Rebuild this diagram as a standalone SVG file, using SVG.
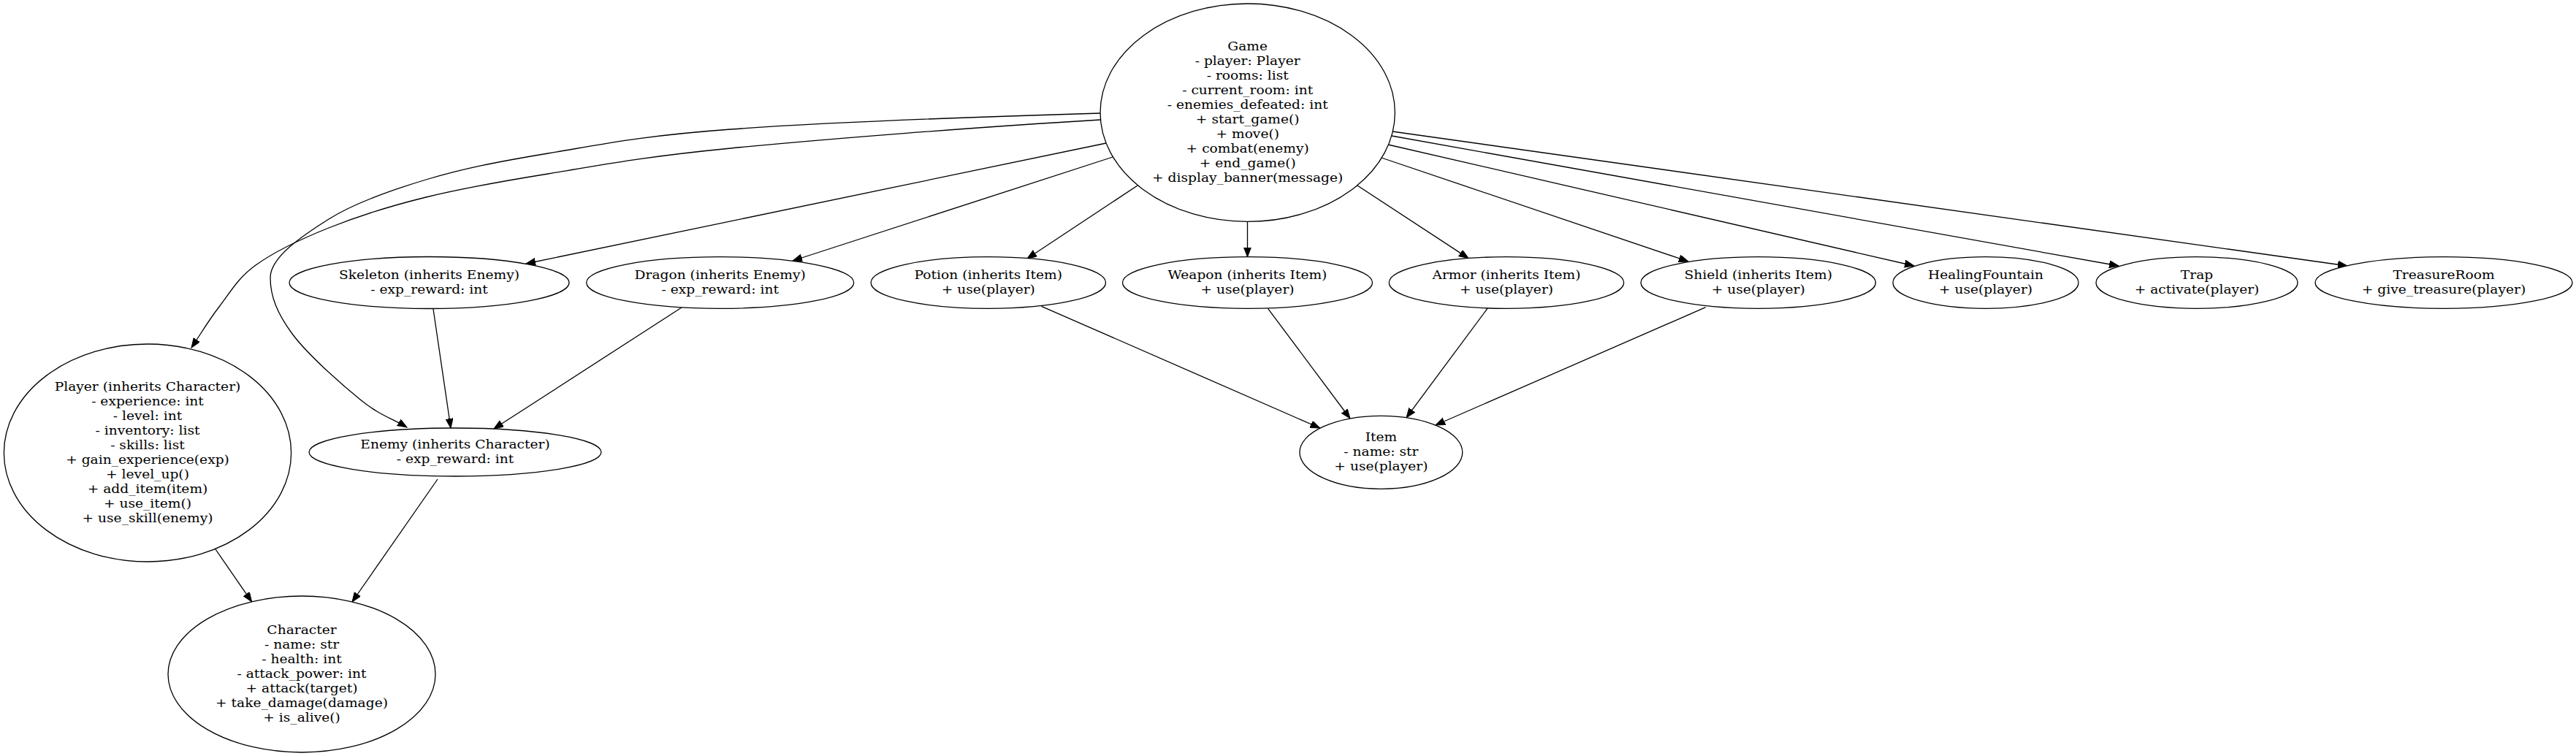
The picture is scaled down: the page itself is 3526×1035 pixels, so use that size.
<svg xmlns="http://www.w3.org/2000/svg" width="3526" height="1035" viewBox="0 0 3526 1035">
<style>
.n ellipse{fill:#fff;stroke:#000;stroke-width:1.3}
.n text{font-family:"DejaVu Serif","Liberation Serif",serif;font-size:16.8px;text-anchor:middle;fill:#000}
.e path{fill:none;stroke:#000;stroke-width:1.3;marker-end:url(#ah)}
</style>
<defs>
<marker id="ah" markerUnits="userSpaceOnUse" markerWidth="14" markerHeight="11" refX="13" refY="5" orient="auto">
<path d="M0,0 L13,5 L0,10 z" fill="#000" stroke="#000" stroke-width="1"/>
</marker>
</defs>
<rect width="3526" height="1035" fill="#fff"/>
<g id="edges" class="e">
<path d="M1506,164 C1337,174 1126,190.7 1000,203 C874,215.3 819.5,226.8 750,238 C680.5,249.2 633,257.7 583,270 C533,282.3 488.8,296.5 450,312 C411.2,327.5 375,345 350,363 C325,381 314.7,401.2 300,420 C285.3,438.8 274.7,457.3 262,476"/>
<path d="M1506,155 C1337,160 1126,167.8 1000,177 C874,186.2 819.5,198.5 750,210 C680.5,221.5 633,231 583,246 C533,261 485.5,277.7 450,300 C414.5,322.3 370,352 370,380 C370,406 379.5,429.2 400,457 C420.5,484.8 466.8,525.7 493,547 C519.2,568.3 535.7,572.3 557,585"/>
<path d="M1514,196 L720,361"/>
<path d="M1523,215 L1085,357"/>
<path d="M1557,254 L1406,354"/>
<path d="M1707.5,303 L1707.5,351.7"/>
<path d="M1858,254 L2010,353.6"/>
<path d="M1891,216 L2311,358"/>
<path d="M1900,198 L2620,364"/>
<path d="M1905,186 L2900,364"/>
<path d="M1906,180 L3213,364"/>
<path d="M593,423 L617,586"/>
<path d="M933,421 L676,587"/>
<path d="M295,752 L344.6,823.8"/>
<path d="M599,656 L482,824"/>
<path d="M1425.5,419.3 L1806.6,586"/>
<path d="M1735.5,422.3 L1848,573"/>
<path d="M2036,422.3 L1925,571.8"/>
<path d="M2334.7,420.7 L1965,582"/>
</g>
<g id="Game" class="n">
<ellipse cx="1707.7" cy="154.2" rx="201.7" ry="149.2"/>
<g transform="translate(1707.7,0) scale(1.11,1)">
<text x="0" y="69">Game</text>
<text x="0" y="89">- player: Player</text>
<text x="0" y="109">- rooms: list</text>
<text x="0" y="129">- current_room: int</text>
<text x="0" y="149">- enemies_defeated: int</text>
<text x="0" y="169">+ start_game()</text>
<text x="0" y="189">+ move()</text>
<text x="0" y="209">+ combat(enemy)</text>
<text x="0" y="229">+ end_game()</text>
<text x="0" y="249">+ display_banner(message)</text>
</g>
</g>
<g id="Skeleton" class="n">
<ellipse cx="587.5" cy="387" rx="191.5" ry="35.5"/>
<g transform="translate(587.5,0) scale(1.11,1)">
<text x="0" y="382">Skeleton (inherits Enemy)</text>
<text x="0" y="402">- exp_reward: int</text>
</g>
</g>
<g id="Dragon" class="n">
<ellipse cx="985.7" cy="387" rx="183" ry="35.3"/>
<g transform="translate(985.7,0) scale(1.11,1)">
<text x="0" y="382">Dragon (inherits Enemy)</text>
<text x="0" y="402">- exp_reward: int</text>
</g>
</g>
<g id="Potion" class="n">
<ellipse cx="1352.8" cy="387" rx="160.7" ry="35.3"/>
<g transform="translate(1352.8,0) scale(1.11,1)">
<text x="0" y="382">Potion (inherits Item)</text>
<text x="0" y="402">+ use(player)</text>
</g>
</g>
<g id="Weapon" class="n">
<ellipse cx="1707.5" cy="387" rx="171" ry="35.3"/>
<g transform="translate(1707.5,0) scale(1.11,1)">
<text x="0" y="382">Weapon (inherits Item)</text>
<text x="0" y="402">+ use(player)</text>
</g>
</g>
<g id="Armor" class="n">
<ellipse cx="2062" cy="387" rx="160.7" ry="35.3"/>
<g transform="translate(2062,0) scale(1.11,1)">
<text x="0" y="382">Armor (inherits Item)</text>
<text x="0" y="402">+ use(player)</text>
</g>
</g>
<g id="Shield" class="n">
<ellipse cx="2406.7" cy="387" rx="160.7" ry="35.3"/>
<g transform="translate(2406.7,0) scale(1.11,1)">
<text x="0" y="382">Shield (inherits Item)</text>
<text x="0" y="402">+ use(player)</text>
</g>
</g>
<g id="HealingFountain" class="n">
<ellipse cx="2718" cy="387" rx="127" ry="35.3"/>
<g transform="translate(2718,0) scale(1.11,1)">
<text x="0" y="382">HealingFountain</text>
<text x="0" y="402">+ use(player)</text>
</g>
</g>
<g id="Trap" class="n">
<ellipse cx="3007" cy="387" rx="138" ry="35.3"/>
<g transform="translate(3007,0) scale(1.11,1)">
<text x="0" y="382">Trap</text>
<text x="0" y="402">+ activate(player)</text>
</g>
</g>
<g id="TreasureRoom" class="n">
<ellipse cx="3345" cy="387" rx="176" ry="35.3"/>
<g transform="translate(3345,0) scale(1.11,1)">
<text x="0" y="382">TreasureRoom</text>
<text x="0" y="402">+ give_treasure(player)</text>
</g>
</g>
<g id="Player" class="n">
<ellipse cx="202" cy="620" rx="196.6" ry="149"/>
<g transform="translate(202,0) scale(1.11,1)">
<text x="0" y="535">Player (inherits Character)</text>
<text x="0" y="555">- experience: int</text>
<text x="0" y="575">- level: int</text>
<text x="0" y="595">- inventory: list</text>
<text x="0" y="615">- skills: list</text>
<text x="0" y="635">+ gain_experience(exp)</text>
<text x="0" y="655">+ level_up()</text>
<text x="0" y="675">+ add_item(item)</text>
<text x="0" y="695">+ use_item()</text>
<text x="0" y="715">+ use_skill(enemy)</text>
</g>
</g>
<g id="Enemy" class="n">
<ellipse cx="623" cy="619" rx="200" ry="33"/>
<g transform="translate(623,0) scale(1.11,1)">
<text x="0" y="614">Enemy (inherits Character)</text>
<text x="0" y="634">- exp_reward: int</text>
</g>
</g>
<g id="Item" class="n">
<ellipse cx="1890.4" cy="619.3" rx="111.4" ry="50"/>
<g transform="translate(1890.4,0) scale(1.11,1)">
<text x="0" y="604.3">Item</text>
<text x="0" y="624.3">- name: str</text>
<text x="0" y="644.3">+ use(player)</text>
</g>
</g>
<g id="Character" class="n">
<ellipse cx="413" cy="923" rx="183" ry="107"/>
<g transform="translate(413,0) scale(1.11,1)">
<text x="0" y="868">Character</text>
<text x="0" y="888">- name: str</text>
<text x="0" y="908">- health: int</text>
<text x="0" y="928">- attack_power: int</text>
<text x="0" y="948">+ attack(target)</text>
<text x="0" y="968">+ take_damage(damage)</text>
<text x="0" y="988">+ is_alive()</text>
</g>
</g>
</svg>
